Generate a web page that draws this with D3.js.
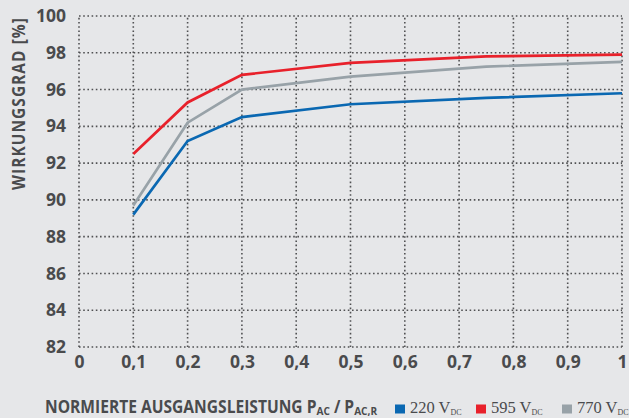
<!DOCTYPE html>
<html><head><meta charset="utf-8">
<script src="https://cdn.jsdelivr.net/npm/d3@7"></script>
<style>
html,body{margin:0;padding:0;background:#e6e7e9;}
svg{display:block;}
</style></head>
<body>
<svg id="chart" width="629" height="418"></svg>
<script>
const xValues = [0.1, 0.2, 0.3, 0.5, 0.75, 1.0];
const series220 = [89.2, 93.2, 94.5, 95.2, 95.55, 95.8];
const series595 = [92.5, 95.3, 96.8, 97.45, 97.8, 97.9];
const series770 = [89.7, 94.2, 96.0, 96.7, 97.25, 97.5];
const seriesNames = ["220", "595", "770"];
const xTicks = [0, 0.1, 0.2, 0.3, 0.4, 0.5, 0.6, 0.7, 0.8, 0.9, 1];
const yTicks = [82, 84, 86, 88, 90, 92, 94, 96, 98, 100];

const colors = ["#0a68b2", "#e8212b", "#98a2a8"];
const textColor = "#4a4b4d";
const boldFont = "'Open Sans','Noto Sans','Liberation Sans',sans-serif";

const svg = d3.select("#chart");
svg.append("rect").attr("width", 629).attr("height", 418).attr("fill", "#e6e7e9");

const x = d3.scaleLinear().domain([0, 1]).range([79, 622]);
const y = d3.scaleLinear().domain([82, 100]).range([347, 16]);

const fmt = d => d === 0 ? "0" : (d === 1 ? "1" : String(d).replace(".", ","));

// horizontal squeeze to imitate a condensed face
function fitWidth(sel, target, ox, oy) {
  const w = sel.node().getBBox().width;
  const s = target / w;
  sel.attr("transform", `translate(${ox},${oy}) scale(${s},1) translate(${-ox},${-oy})`);
}

// grid
const grid = svg.append("g").attr("stroke", "#505153").attr("stroke-width", 1.6)
  .attr("stroke-dasharray", "1.6,2.6").attr("fill", "none");
grid.selectAll("line.h").data(yTicks).join("line").attr("class", "h")
  .attr("x1", x(0)).attr("x2", x(1)).attr("y1", d => y(d)).attr("y2", d => y(d));
grid.selectAll("line.v").data(xTicks).join("line").attr("class", "v")
  .attr("x1", d => x(d)).attr("x2", d => x(d)).attr("y1", y(82)).attr("y2", y(100));

// axes (labels only)
const yAxis = d3.axisLeft(y).tickValues(yTicks).tickSize(0).tickPadding(13).tickFormat(d => d);
const gy = svg.append("g").attr("transform", `translate(${x(0)},0)`).call(yAxis);
gy.select(".domain").remove();
gy.selectAll("text").attr("fill", textColor).style("font-family", boldFont)
  .style("font-weight", "bold").style("font-size", "17.5px");

const xAxis = d3.axisBottom(x).tickValues(xTicks).tickSize(0).tickPadding(9).tickFormat(fmt);
const gx = svg.append("g").attr("transform", `translate(0,${y(82)})`).call(xAxis);
gx.select(".domain").remove();
gx.selectAll("text").attr("fill", textColor).style("font-family", boldFont)
  .style("font-weight", "bold").style("font-size", "17.5px");

// lines
const allSeries = [series220, series595, series770];
const line = d3.line().x((d, i) => x(xValues[i])).y(d => y(d));
svg.append("g").selectAll("path").data([0, 2, 1]).join("path")
  .attr("d", i => line(allSeries[i]))
  .attr("fill", "none").attr("stroke", i => colors[i]).attr("stroke-width", 2.7)
  .attr("stroke-linejoin", "miter");

// y title
const ytG = svg.append("g").attr("transform", "translate(25,103.5) rotate(-90)");
const yt = ytG.append("text").attr("x", 0).attr("y", 0)
  .attr("text-anchor", "middle").attr("fill", textColor)
  .style("font-family", boldFont).style("font-weight", "bold").style("font-size", "17px")
  .style("letter-spacing", "1.2px")
  .text("WIRKUNGSGRAD [%]");
fitWidth(yt, 173, 0, 0);

// x title
const xt = svg.append("text").attr("x", 45).attr("y", 413).attr("fill", textColor)
  .style("font-family", boldFont).style("font-weight", "bold").style("font-size", "17px");
xt.append("tspan").text("NORMIERTE AUSGANGSLEISTUNG P");
xt.append("tspan").attr("dy", 2).style("font-size", "11px").text("AC");
xt.append("tspan").attr("dy", -2).text(" / P");
xt.append("tspan").attr("dy", 2).style("font-size", "11px").text("AC,R");
fitWidth(xt, 333, 45, 413);

// legend
const legX = [395, 476, 562];
const lg = svg.append("g");
seriesNames.forEach((n, i) => {
  lg.append("rect").attr("x", legX[i]).attr("y", 404.5).attr("width", 10).attr("height", 9).attr("fill", colors[i]);
  const t = lg.append("text").attr("x", legX[i] + 15).attr("y", 413).attr("fill", textColor)
    .style("font-family", "'Liberation Serif','DejaVu Serif',serif").style("font-size", "16.5px");
  t.append("tspan").text(n + " V");
  t.append("tspan").attr("dy", 2).style("font-size", "8px").text("DC");
});
</script>
</body></html>
